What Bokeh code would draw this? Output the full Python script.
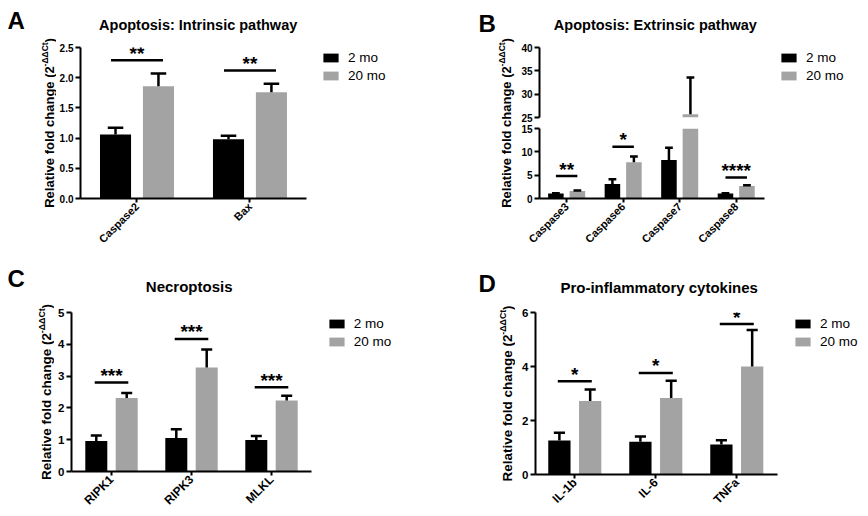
import math
from bokeh.plotting import figure
from bokeh.models import (Range1d, FixedTicker, PrintfTickFormatter, Label, Legend, LegendItem,
                          ColumnDataSource, CDSView, BooleanFilter)
from bokeh.layouts import row, column
from bokeh.embed import file_html
from bokeh.resources import INLINE
from bokeh.core.properties import value
from bokeh.core.validation import silence
from bokeh.core.validation.warnings import MISSING_RENDERERS

silence(MISSING_RENDERERS, True)

# ---------------- data ----------------
GROUPS = ["2 mo", "20 mo"]

A_categories = ["Caspase2", "Bax"]
A_2mo = [1.06, 0.98]
A_2mo_sem = [0.11, 0.06]
A_20mo = [1.86, 1.76]
A_20mo_sem = [0.21, 0.14]
A_sig_categories = ["Caspase2", "Bax"]
A_sig_height = [2.29, 2.12]
A_sig_stars = ["**", "**"]
A_yticks = [0.0, 0.5, 1.0, 1.5, 2.0, 2.5]

B_categories = ["Caspase3", "Caspase6", "Caspase7", "Caspase8"]
B_2mo = [1.05, 3.1, 8.25, 1.05]
B_2mo_sem = [0.1, 1.0, 2.65, 0.1]
B_20mo = [1.6, 7.75, 25.7, 2.68]
B_20mo_sem = [0.14, 1.25, 7.85, 0.15]
B_sig_categories = ["Caspase3", "Caspase6", "Caspase8"]
B_sig_height = [4.8, 11.1, 4.5]
B_sig_stars = ["**", "*", "****"]
B_yticks_lower = [0, 5, 10, 15]
B_yticks_upper = [25, 30, 35, 40]
B_axis_break = (15, 25)

C_categories = ["RIPK1", "RIPK3", "MLKL"]
C_2mo = [0.96, 1.05, 0.99]
C_2mo_sem = [0.17, 0.28, 0.13]
C_20mo = [2.31, 3.27, 2.23]
C_20mo_sem = [0.16, 0.57, 0.15]
C_sig_categories = ["RIPK1", "RIPK3", "MLKL"]
C_sig_height = [2.8, 4.17, 2.65]
C_sig_stars = ["***", "***", "***"]
C_yticks = [0, 1, 2, 3, 4, 5]

D_categories = ["IL-1b", "IL-6", "TNFa"]
D_2mo = [1.26, 1.21, 1.11]
D_2mo_sem = [0.29, 0.20, 0.16]
D_20mo = [2.72, 2.83, 4.0]
D_20mo_sem = [0.43, 0.64, 1.35]
D_sig_categories = ["IL-1b", "IL-6", "TNFa"]
D_sig_height = [3.45, 3.76, 5.57]
D_sig_stars = ["*", "*", "*"]
D_yticks = [0, 2, 4, 6]

TITLES = ["Apoptosis: Intrinsic pathway", "Apoptosis: Extrinsic pathway",
          "Necroptosis", "Pro-inflammatory cytokines"]
LETTERS = ["A", "B", "C", "D"]

# ---------------- style ----------------
FONT = "Liberation Sans"
BLACK = "#000000"
GRAY = "#a3a3a3"
BAR_OFF = 0.19
BAR_W = 0.275
ERR_LW = 2.5
SIG_LW = 2.5
LEG_H = 34
BASE_FIX = 0.3   # baseline correction (em) for horizontal labels
TITLE_DX = -15   # horizontal correction (px) for titles

# Liberation Sans Bold advance widths (1/1000 em)
BOLD_W = {" ": 278, "-": 333, ":": 333, "(": 333, ")": 333, "2": 556,
          "A": 722, "C": 722, "E": 667, "N": 722, "P": 667, "R": 722,
          "a": 556, "c": 556, "d": 611, "e": 556, "f": 333, "g": 611, "h": 611, "i": 278,
          "k": 556, "l": 278, "m": 889, "n": 611, "o": 611, "p": 611, "r": 389, "s": 556,
          "t": 333, "v": 556, "w": 778, "x": 556, "y": 556}


def text_width(s, size):
    return sum(BOLD_W.get(ch, 600) for ch in s) / 1000.0 * size


def base_fig(W, H, **kw):
    return figure(width=W, height=H, toolbar_location=None, tools="", output_backend="svg",
                  outline_line_color=None, title=None, **kw)


def text_fig(W, H):
    p = base_fig(W, H, x_range=Range1d(0, W), y_range=Range1d(0, H),
                 min_border_left=0, min_border_right=0, min_border_top=0, min_border_bottom=0,
                 x_axis_location=None, y_axis_location=None)
    p.xgrid.visible = False
    p.ygrid.visible = False
    return p, (lambda px, py: (px, H - py))


def make_fig(W, H, fl, fr, ft, fb, xs, spacing, ys, ye, xaxis=True):
    fw = W - fl - fr
    fh = H - ft - fb
    xe = xs + fw / spacing
    p = base_fig(W, H, x_range=Range1d(xs, xe), y_range=Range1d(ys, ye),
                 min_border_left=fl, min_border_right=fr, min_border_top=ft, min_border_bottom=fb,
                 x_axis_location="below" if xaxis else None)
    p.xgrid.visible = False
    p.ygrid.visible = False
    return p, fh


def style_y(p, ticks, fmt, size):
    for ax in p.yaxis:
        ax.ticker = FixedTicker(ticks=ticks)
        ax.formatter = PrintfTickFormatter(format=fmt)
        ax.axis_line_width = 2
        ax.axis_line_color = "black"
        ax.major_tick_line_width = 2
        ax.major_tick_line_color = "black"
        ax.major_tick_in = 0
        ax.major_tick_out = 5
        ax.minor_tick_line_color = None
        ax.major_label_standoff = 2
        ax.major_label_text_font = FONT
        ax.major_label_text_font_style = "bold"
        ax.major_label_text_font_size = size
        ax.major_label_text_color = "black"


def style_x(p, cats, xs, size):
    ax = p.xaxis[0]
    ax.ticker = FixedTicker(ticks=list(range(len(cats))))
    ax.major_label_overrides = {i: c for i, c in enumerate(cats)}
    ax.major_label_orientation = math.pi / 4
    ax.bounds = (xs, len(cats) - 0.5)
    ax.axis_line_width = 2
    ax.axis_line_color = "black"
    ax.major_tick_line_width = 2
    ax.major_tick_line_color = "black"
    ax.major_tick_in = 0
    ax.major_tick_out = 4
    ax.minor_tick_line_color = None
    ax.major_label_standoff = 2
    ax.major_label_text_font = FONT
    ax.major_label_text_font_style = "bold"
    ax.major_label_text_font_size = size
    ax.major_label_text_color = "black"


def label(p, conv, px, py, text, size, align="left", baseline="alphabetic", angle=0.0):
    x, y = conv(px, py)
    p.add_layout(Label(x=x, y=y, text=text, text_font=FONT, text_font_size=f"{size}px",
                       text_font_style="bold", text_align=align,
                       text_baseline=baseline, angle=angle, text_color="black"))


def hlabel(p, conv, left_x, base_y, text, size):
    label(p, conv, left_x, base_y - BASE_FIX * size, text, size)


def title(p, conv, center_x, base_y, text, size):
    hlabel(p, conv, center_x - text_width(text, size) / 2 + TITLE_DX, base_y, text, size)


def ylabel(p, conv, base_x, center_y, size):
    main, sup, par = "Relative fold change (2", "-\u0394\u0394Ct", ")"
    ssz = round(size * 0.65, 1)
    w_main = text_width(main, size)
    w_sup = 2.79 * ssz
    w_par = text_width(par, size)
    total = w_main + w_sup + w_par
    y0 = center_y + total / 2
    a = math.pi / 2
    label(p, conv, base_x - 0.32 * size, y0 - w_main / 2, main, size,
          align="center", baseline="middle", angle=a)
    label(p, conv, base_x - 0.42 * size - 0.32 * ssz, y0 - w_main - w_sup / 2, sup, ssz,
          align="center", baseline="middle", angle=a)
    label(p, conv, base_x - 0.32 * size, y0 - w_main - w_sup - w_par / 2, par, size,
          align="center", baseline="middle", angle=a)


def draw_series(p, n, v2, e2, v20, e20, floor=None, ceiling=None):
    rs = []
    for off, v, e, col in ((-BAR_OFF, v2, e2, BLACK), (BAR_OFF, v20, e20, GRAY)):
        x = [i + off for i in range(n)]
        top = [a + b for a, b in zip(v, e)]
        src = ColumnDataSource(dict(x=x, v=v, top=top,
                                    c0=[xx - BAR_W / 4 for xx in x], c1=[xx + BAR_W / 4 for xx in x]))
        keep_bar = [True] * n if floor is None else [val > floor for val in v]
        keep_err = [k and (ceiling is None or val < ceiling) for k, val in zip(keep_bar, v)]
        vb = CDSView(filter=BooleanFilter(keep_bar))
        ve = CDSView(filter=BooleanFilter(keep_err))
        r = p.vbar(x="x", top="v", bottom=0, width=BAR_W, source=src, view=vb,
                   fill_color=col, line_color=None)
        p.segment(x0="x", y0="v", x1="x", y1="top", source=src, view=ve,
                  line_color=BLACK, line_width=ERR_LW)
        p.segment(x0="c0", y0="top", x1="c1", y1="top", source=src, view=ve,
                  line_color=BLACK, line_width=ERR_LW)
        if floor is not None:
            # legend-only swatch renderer (draws nothing in the frame)
            r = p.vbar(x=[float("nan")], top=[float("nan")], bottom=[float("nan")], width=BAR_W,
                       fill_color=col, line_color=None)
        rs.append(r)
    return rs


def draw_sig(p, cats, sig_cats, heights, stars, half, size=19):
    pos = [cats.index(c) for c in sig_cats]
    p.segment(x0=[x - half for x in pos], y0=heights, x1=[x + half for x in pos], y1=heights,
              line_color=BLACK, line_width=SIG_LW)
    for x, h, s in zip(pos, heights, stars):
        p.add_layout(Label(x=x, y=h, text=s, text_font=FONT, text_font_size=f"{size}px",
                           text_font_style="bold", text_align="center", text_baseline="alphabetic",
                           y_offset=7, text_color="black"))


def add_legend(p, rb, rg, fl, ft, fh, sx, sy):
    leg = Legend(items=[LegendItem(label=value(GROUPS[0]), renderers=[rb]),
                        LegendItem(label=value(GROUPS[1]), renderers=[rg])],
                 location=(sx - fl, fh - (sy - ft) - LEG_H), orientation="vertical",
                 border_line_color=None, background_fill_alpha=0, padding=0, margin=0,
                 spacing=3, glyph_width=19, glyph_height=11, label_height=11, label_standoff=8,
                 label_text_font=FONT, label_text_font_size="13.5px", label_text_color="black")
    p.add_layout(leg)


# ---------------- Panel A ----------------
sA, cA = text_fig(56, 258)
hlabel(sA, cA, 7, 27, LETTERS[0], 24)
ylabel(sA, cA, 52.7, 122.5, 13)
tA, ctA = text_fig(378, 40)
title(tA, ctA, 136.5, 28.5, TITLES[0], 14.5)
pA, fhA = make_fig(378, 218, 23, 4, 7, 60, -0.5, 113.3, 0, 2.5)
style_y(pA, A_yticks, "%.1f", "10px")
style_x(pA, A_categories, -0.5, "11px")
rb, rg = draw_series(pA, len(A_categories), A_2mo, A_2mo_sem, A_20mo, A_20mo_sem)
draw_sig(pA, A_categories, A_sig_categories, A_sig_height, A_sig_stars, 0.23)
add_legend(pA, rb, rg, 23, 7, fhA, 264, 9)
panelA = row(sA, column(tA, pA))

# ---------------- Panel B ----------------
sB, cB = text_fig(84, 258)
hlabel(sB, cB, 44, 30, LETTERS[1], 24)
ylabel(sB, cB, 76, 122.5, 13)
tB, ctB = text_fig(350, 40)
title(tB, ctB, 132, 28.5, TITLES[1], 14.5)
pBt, fhBt = make_fig(350, 82, 20, 4, 7, 5, -0.48, 56.7, B_axis_break[1], B_yticks_upper[-1], xaxis=False)
pBb, fhBb = make_fig(350, 136, 20, 4, 6, 60, -0.48, 56.7, 0, B_axis_break[0])
pBb.x_range = pBt.x_range
style_y(pBt, B_yticks_upper, "%d", "10px")
style_y(pBb, B_yticks_lower, "%d", "10px")
style_x(pBb, B_categories, -0.48, "11px")
rbt, rgt = draw_series(pBt, len(B_categories), B_2mo, B_2mo_sem, B_20mo, B_20mo_sem,
                       floor=B_axis_break[1])
draw_series(pBb, len(B_categories), B_2mo, B_2mo_sem, B_20mo, B_20mo_sem, ceiling=B_axis_break[0])
draw_sig(pBb, B_categories, B_sig_categories, B_sig_height, B_sig_stars, 0.19)
add_legend(pBt, rbt, rgt, 20, 7, fhBt, 260, 9)
panelB = row(sB, column(tB, pBt, pBb))

# ---------------- Panel C ----------------
sC, cC = text_fig(54, 258)
hlabel(sC, cC, 7, 27, LETTERS[2], 24)
ylabel(sC, cC, 50, 133.5, 13.5)
tC, ctC = text_fig(380, 40)
title(tC, ctC, 137, 32, TITLES[2], 15)
pC, fhC = make_fig(380, 218, 17, 4, 14, 45, -0.5, 80, 0, 5)
style_y(pC, C_yticks, "%d", "11.5px")
style_x(pC, C_categories, -0.5, "12px")
rb, rg = draw_series(pC, len(C_categories), C_2mo, C_2mo_sem, C_20mo, C_20mo_sem)
draw_sig(pC, C_categories, C_sig_categories, C_sig_height, C_sig_stars, 0.21)
add_legend(pC, rb, rg, 17, 14, fhC, 272.7, 17.3)
panelC = row(sC, column(tC, pC))

# ---------------- Panel D ----------------
sD, cD = text_fig(81, 258)
hlabel(sD, cD, 44, 32, LETTERS[3], 24)
ylabel(sD, cD, 77, 135, 13.5)
tD, ctD = text_fig(353, 40)
title(tD, ctD, 140.5, 33.7, TITLES[3], 15)
pD, fhD = make_fig(353, 218, 20, 4, 14, 42, -0.485, 81, 0, 6)
style_y(pD, D_yticks, "%d", "11.5px")
style_x(pD, D_categories, -0.485, "12px")
rb, rg = draw_series(pD, len(D_categories), D_2mo, D_2mo_sem, D_20mo, D_20mo_sem)
draw_sig(pD, D_categories, D_sig_categories, D_sig_height, D_sig_stars, 0.21)
add_legend(pD, rb, rg, 20, 14, fhD, 278, 17)
panelD = row(sD, column(tD, pD))

layout = column(row(panelA, panelB), row(panelC, panelD))

with open("out.html", "w") as f:
    f.write(file_html(layout, INLINE, title="chart"))
